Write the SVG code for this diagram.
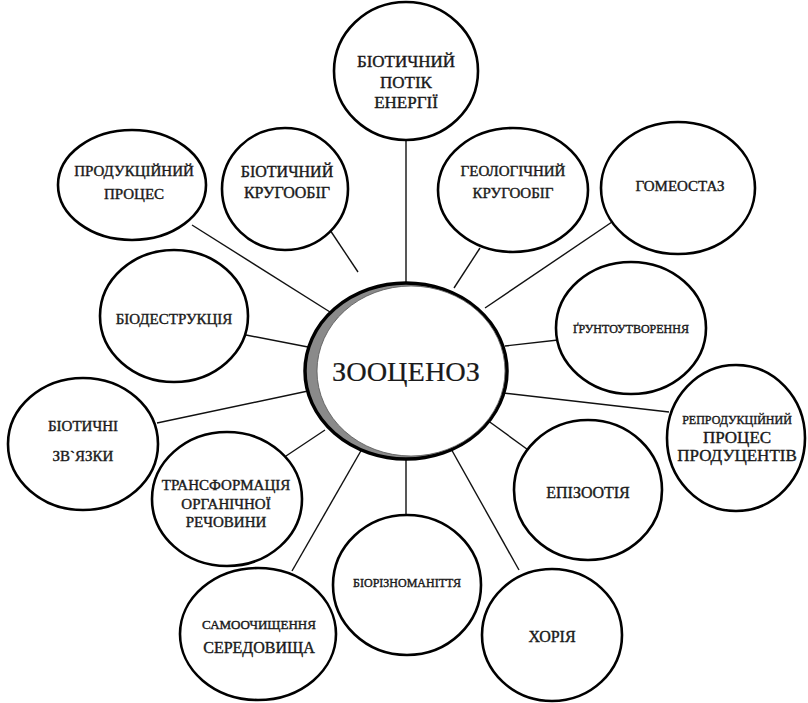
<svg xmlns="http://www.w3.org/2000/svg" width="808" height="703" viewBox="0 0 808 703">
<style>
.n{fill:#fff;stroke:#000;stroke-width:2.6}
.c line{stroke:#111;stroke-width:1.4}
text{font-family:"Liberation Serif","DejaVu Serif",serif;fill:#1a1a1a;stroke:#1a1a1a;stroke-width:0.4;text-anchor:middle}
.big{font-size:28px;stroke-width:0.2}
.s15{font-size:15px}
.s16{font-size:16px}
.s17{font-size:17px}
.s12{font-size:12px}
.s13{font-size:13px}
</style>
<rect width="808" height="703" fill="#fff"/>
<g id="connectors" class="c">
<line x1="406" y1="140" x2="406" y2="285"/>
<line x1="192" y1="225" x2="330" y2="312"/>
<line x1="330" y1="230" x2="358" y2="272"/>
<line x1="480" y1="248" x2="454" y2="288"/>
<line x1="612" y1="222" x2="485" y2="308"/>
<line x1="246" y1="335" x2="308" y2="347"/>
<line x1="558" y1="340" x2="505" y2="346"/>
<line x1="157" y1="423" x2="308" y2="391"/>
<line x1="669" y1="412" x2="503" y2="393"/>
<line x1="286" y1="456" x2="325" y2="430"/>
<line x1="531" y1="452" x2="487" y2="420"/>
<line x1="406" y1="456" x2="406" y2="516"/>
<line x1="292" y1="571" x2="366" y2="442"/>
<line x1="519" y1="570" x2="450" y2="447"/>
</g>
<g id="center">
<ellipse cx="406" cy="371" rx="101" ry="88" fill="#8a8a8a" stroke="#000" stroke-width="3.5"/>
<ellipse cx="411" cy="371" rx="94" ry="85" fill="#fff" stroke="#555" stroke-width="0.8"/>
<text class="big" x="406" y="381" textLength="148" lengthAdjust="spacingAndGlyphs">ЗООЦЕНОЗ</text>
</g>
<g id="n-potik">
<ellipse class="n" cx="406" cy="71" rx="72" ry="69"/>
<text class="s17" x="406" y="67">БІОТИЧНИЙ</text>
<text class="s17" x="406" y="88">ПОТІК</text>
<text class="s17" x="406" y="108">ЕНЕРГІЇ</text>
</g>
<g id="n-produktsiinyi">
<ellipse class="n" cx="132" cy="185" rx="74" ry="55"/>
<text class="s15" x="134" y="176">ПРОДУКЦІЙНИЙ</text>
<text class="s15" x="134" y="199">ПРОЦЕС</text>
</g>
<g id="n-biotychnyi-kruhoobih">
<ellipse class="n" cx="285" cy="189" rx="63" ry="61"/>
<text class="s16" x="287" y="177">БІОТИЧНИЙ</text>
<text class="s16" x="287" y="198">КРУГООБІГ</text>
</g>
<g id="n-heolohichnyi">
<ellipse class="n" cx="513" cy="190" rx="75" ry="62"/>
<text class="s15" x="513" y="176">ГЕОЛОГІЧНИЙ</text>
<text class="s15" x="513" y="198">КРУГООБІГ</text>
</g>
<g id="n-homeostaz">
<ellipse class="n" cx="678" cy="188" rx="77" ry="66"/>
<text class="s15" x="680" y="191">ГОМЕОСТАЗ</text>
</g>
<g id="n-biodestruktsiia">
<ellipse class="n" cx="174" cy="316" rx="74" ry="66"/>
<text class="s15" x="174" y="324">БІОДЕСТРУКЦІЯ</text>
</g>
<g id="n-gruntoutvorennia">
<ellipse class="n" cx="631" cy="328" rx="75" ry="66"/>
<text class="s12" x="631" y="333">ҐРУНТОУТВОРЕННЯ</text>
</g>
<g id="n-biotychni-zviazky">
<ellipse class="n" cx="83" cy="444" rx="75" ry="66"/>
<text class="s15" x="83" y="431">БІОТИЧНІ</text>
<text class="s15" x="83" y="461">ЗВ`ЯЗКИ</text>
</g>
<g id="n-reproduktsiinyi">
<ellipse class="n" cx="736" cy="438" rx="69" ry="73"/>
<text class="s12" x="737" y="424">РЕПРОДУКЦІЙНИЙ</text>
<text class="s17" x="737" y="443">ПРОЦЕС</text>
<text class="s17" x="737" y="461">ПРОДУЦЕНТІВ</text>
</g>
<g id="n-transformatsiia">
<ellipse class="n" cx="227" cy="499" rx="75" ry="67"/>
<text class="s15" x="226" y="490">ТРАНСФОРМАЦІЯ</text>
<text class="s15" x="226" y="509">ОРГАНІЧНОЇ</text>
<text class="s15" x="226" y="527">РЕЧОВИНИ</text>
</g>
<g id="n-epizootiia">
<ellipse class="n" cx="588" cy="490" rx="74" ry="70"/>
<text class="s16" x="588" y="498">ЕПІЗООТІЯ</text>
</g>
<g id="n-bioriznomanittia">
<ellipse class="n" cx="407" cy="585" rx="74" ry="70"/>
<text class="s12" x="407" y="587">БІОРІЗНОМАНІТТЯ</text>
</g>
<g id="n-samoochyshchennia">
<ellipse class="n" cx="258" cy="634" rx="78" ry="66"/>
<text class="s13" x="259" y="629">САМООЧИЩЕННЯ</text>
<text class="s16" x="259" y="653">СЕРЕДОВИЩА</text>
</g>
<g id="n-khoriia">
<ellipse class="n" cx="552" cy="635" rx="70" ry="66"/>
<text class="s16" x="552" y="642">ХОРІЯ</text>
</g>
</svg>
